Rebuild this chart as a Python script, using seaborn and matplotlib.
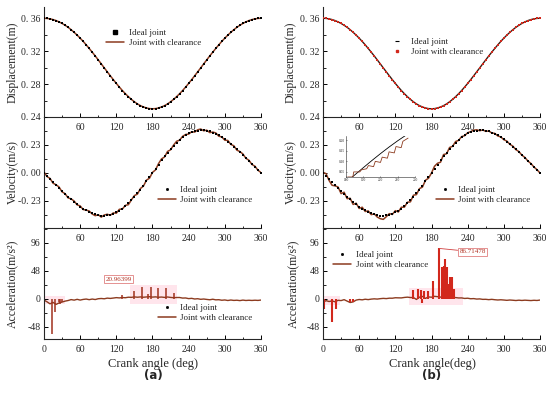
import matplotlib
matplotlib.use("Agg")
import matplotlib.pyplot as plt
import numpy as np
import pandas as pd
import seaborn as sns
from matplotlib.lines import Line2D
from matplotlib.patches import Rectangle
from matplotlib.ticker import AutoMinorLocator

# --- data (5 deg grid) ---
crank_angle = np.arange(0, 361, 5)

disp_ideal = [
    0.3600, 0.3598, 0.3593, 0.3584, 0.3572, 0.3556, 0.3537, 0.3515, 0.3490, 0.3461,
    0.3429, 0.3395, 0.3358, 0.3319, 0.3277, 0.3233, 0.3188, 0.3142, 0.3094, 0.3046,
    0.2997, 0.2949, 0.2901, 0.2854, 0.2808, 0.2764, 0.2722, 0.2683, 0.2647, 0.2614,
    0.2585, 0.2559, 0.2538, 0.2522, 0.2510, 0.2502, 0.2500,
    0.2502, 0.2510, 0.2522, 0.2538, 0.2559, 0.2585, 0.2614, 0.2647, 0.2683, 0.2722,
    0.2764, 0.2808, 0.2854, 0.2901, 0.2949, 0.2997, 0.3046, 0.3094, 0.3142, 0.3188,
    0.3233, 0.3277, 0.3319, 0.3358, 0.3395, 0.3429, 0.3461, 0.3490, 0.3515, 0.3537,
    0.3556, 0.3572, 0.3584, 0.3593, 0.3598, 0.3600,
]

vel_ideal = [
    0.0, -0.0254, -0.0507, -0.0759, -0.1008, -0.1254, -0.1495, -0.1729, -0.1957, -0.2176,
    -0.2385, -0.2582, -0.2765, -0.2932, -0.3082, -0.3213, -0.3322, -0.3409, -0.3470, -0.3505,
    -0.3512, -0.3490, -0.3439, -0.3358, -0.3246, -0.3104, -0.2931, -0.2731, -0.2504, -0.2251,
    -0.1975, -0.1679, -0.1365, -0.1037, -0.0697, -0.0351, 0.0,
    0.0351, 0.0697, 0.1037, 0.1365, 0.1679, 0.1975, 0.2251, 0.2504, 0.2731, 0.2931,
    0.3104, 0.3246, 0.3358, 0.3439, 0.3490, 0.3512, 0.3505, 0.3470, 0.3409, 0.3322,
    0.3213, 0.3082, 0.2932, 0.2765, 0.2582, 0.2385, 0.2176, 0.1957, 0.1729, 0.1495,
    0.1254, 0.1008, 0.0759, 0.0507, 0.0254, 0.0,
]

# clearance velocity = ideal + small wobble (a) / larger wobble (b)
vel_dev_a = [
    0.008, -0.004, 0.006, -0.008, 0.004, 0.010, -0.006, 0.003, -0.009, 0.005,
    0.008, -0.004, 0.006, -0.007, 0.003, 0.009, -0.005, -0.010, 0.004, -0.012,
    0.006, 0.010, -0.004, 0.008, -0.006, 0.012, -0.003, 0.007, -0.010, 0.004,
    0.012, -0.006, 0.009, -0.004, 0.011, -0.008, 0.005, -0.010, 0.007, 0.012,
    -0.005, 0.009, -0.007, 0.004, 0.010, -0.003, 0.008, 0.006, -0.005, 0.003,
    -0.008, 0.006, 0.010, -0.004, 0.005, -0.009, 0.004, 0.008, -0.006, 0.003,
    -0.007, 0.009, -0.004, 0.006, -0.008, 0.003, 0.007, -0.005, 0.004, -0.006,
    0.005, -0.003, 0.004,
]
vel_dev_b = [
    0.005, 0.020, -0.010, -0.025, -0.005, 0.010, -0.020, 0.015, -0.015, 0.010,
    -0.020, 0.010, -0.015, 0.012, -0.008, 0.010, -0.010, 0.005, -0.015, -0.025,
    -0.030, -0.010, 0.010, -0.005, 0.015, -0.010, 0.012, -0.008, 0.010, -0.012,
    0.015, -0.010, 0.008, -0.012, 0.010, -0.008, 0.000, 0.020, 0.010, -0.015,
    0.015, -0.010, 0.012, -0.006, 0.008, -0.005, 0.006, -0.004, 0.006, 0.004,
    0.008, 0.006, -0.004, 0.003, -0.005, 0.004, -0.003, 0.004, -0.004, 0.003,
    -0.003, 0.004, -0.003, 0.003, -0.004, 0.003, -0.003, 0.002, -0.003, 0.002,
    -0.002, 0.002, 0.000,
]

acc_ideal = [
    -1.84, -1.84, -1.83, -1.81, -1.79, -1.76, -1.72, -1.67, -1.62, -1.55,
    -1.47, -1.38, -1.27, -1.15, -1.02, -0.87, -0.71, -0.54, -0.35, -0.15,
    0.05, 0.26, 0.48, 0.70, 0.92, 1.14, 1.35, 1.55, 1.74, 1.91,
    2.07, 2.21, 2.33, 2.42, 2.49, 2.53, 2.54,
    2.53, 2.49, 2.42, 2.33, 2.21, 2.07, 1.91, 1.74, 1.55, 1.35,
    1.14, 0.92, 0.70, 0.48, 0.26, 0.05, -0.15, -0.35, -0.54, -0.71,
    -0.87, -1.02, -1.15, -1.27, -1.38, -1.47, -1.55, -1.62, -1.67, -1.72,
    -1.76, -1.79, -1.81, -1.83, -1.84, -1.84,
]
acc_noise_a = [
    0.0, -3.0, -6.5, -4.0, -7.5, -5.0, -3.5, -2.0, -1.0, 0.5,
    -0.5, 0.8, -0.6, 0.4, 0.9, -0.3, 0.6, -0.4, 0.8, 1.0,
    0.3, 1.2, 0.5, 0.9, 1.4, 0.7, 1.1, 0.6, 1.3, 0.9,
    1.5, 0.8, 1.2, 0.6, 1.0, 1.4, 0.7, 1.1, 0.5, 0.9,
    0.4, 1.2, 0.6, 0.3, 0.8, 1.0, 0.2, 0.6, -0.3, 0.4,
    -0.5, 0.2, -0.6, 0.1, -0.4, -0.8, 0.3, -0.6, -0.2, -1.0,
    -0.4, -1.2, -0.3, -0.9, -0.5, -1.1, -0.2, -0.8, -0.4, -0.7,
    -0.3, -0.6, 0.0,
]
acc_noise_b = [
    -4.0, -1.0, -2.5, -1.5, -3.0, -0.5, -1.0, 0.5, -2.0, -4.5,
    -3.5, -0.5, 0.4, -0.3, 0.6, -0.2, 0.5, 0.8, 0.2, 0.7,
    1.0, 0.4, 0.9, 0.6, 1.2, 0.8, 0.5, 1.1, 1.4, 0.6,
    0.4, -3.0, 0.8, 2.0, -1.5, 1.0, 0.5, 2.0, 1.5, 0.8,
    1.2, 0.6, 0.9, 0.3, 0.7, 0.2, 0.5, -0.2, 0.4, -0.3,
    0.2, -0.4, 0.1, -0.5, -0.2, -0.6, 0.1, -0.4, -0.7, -0.2,
    -0.5, -0.9, -0.3, -0.6, -1.0, -0.4, -0.8, -0.3, -0.6, -0.9,
    -0.4, -0.7, 0.0,
]

# impact spikes of the clearance joint
spike_a_angle = [14, 17.5, 25, 27, 30, 129.5, 150, 162.5, 173, 178, 188.5, 203, 216.5]
spike_a_peak = [-60.5, -23, -6, -8, -5, 6.5, 13, 20.96, 8, 20.5, 19.5, 19.5, 11]
spike_b_angle = [2, 15.5, 21, 45, 49, 150, 157, 163, 165, 168, 175, 183,
                 192.5, 197, 200, 202, 205, 208, 210, 213.5, 217]
spike_b_peak = [-17, -40, -17, -5, -5, 15, 17, 16, -7, 13.5, 13.5, 31,
                86.71, 55, 57, 68, 54, 25, 37, 37, 16.5]

# pink highlight bands (start, end, low, high)
band_a = [(1, 35, -9, 5), (142, 220, -8, 24)]
band_b = [(0, 28, -10, 5), (142, 233, -11, 18)]

# inset: zoomed clearance velocity around 180-215 deg
inset_angle = [181, 184, 184.5, 188, 189, 192, 193, 196, 197, 200, 201, 204, 205, 208, 209, 212, 213, 216]
inset_clear = [0.026, 0.026, 0.05, 0.05, 0.06, 0.065, 0.08, 0.075, 0.10, 0.095,
               0.12, 0.115, 0.145, 0.14, 0.17, 0.165, 0.195, 0.21]

x_ticks = [0, 60, 120, 180, 240, 300, 360]

BROWN = "#8c3b1f"
RED = "#d2281c"
DARK_RED = "#a0301c"
PINK = "#ffe3ea"


def style_axis(ax, ylim, yticks, yticklabels, show_zero):
    ax.set_xlim(0, 360)
    ax.set_ylim(*ylim)
    ax.set_xticks(x_ticks)
    labels = [str(t) for t in x_ticks]
    if not show_zero:
        labels[0] = ""
    ax.set_xticklabels(labels)
    ax.set_yticks(yticks)
    ax.set_yticklabels(yticklabels)
    ax.xaxis.set_minor_locator(AutoMinorLocator(2))
    ax.yaxis.set_minor_locator(AutoMinorLocator(2))
    ax.tick_params(which="both", direction="in", labelsize=7, color="black")
    ax.tick_params(which="major", length=3, width=0.7)
    ax.tick_params(which="minor", length=1.8, width=0.6)
    ax.tick_params(axis="x", pad=4)
    ax.tick_params(axis="y", pad=2.5)
    ax.set_xlabel("")
    sns.despine(ax=ax)
    ax.patch.set_visible(False)


def add_legend(ax, handles, anchor):
    ax.legend(handles=handles, loc="upper left", bbox_to_anchor=anchor, frameon=False,
              fontsize=6.5, handlelength=2.0, handletextpad=0.5, labelspacing=0.15,
              borderpad=0, borderaxespad=0, numpoints=1)


def main():
    sns.set_style("ticks")
    plt.rcParams["font.family"] = ["Liberation Serif", "DejaVu Serif"]
    plt.rcParams["axes.linewidth"] = 0.8

    df = pd.DataFrame({
        "angle": crank_angle,
        "disp": disp_ideal,
        "vel": vel_ideal,
        "vel_a": np.array(vel_ideal) + np.array(vel_dev_a),
        "vel_b": np.array(vel_ideal) + np.array(vel_dev_b),
        "acc": acc_ideal,
        "acc_a": np.array(acc_ideal) + np.array(acc_noise_a),
        "acc_b": np.array(acc_ideal) + np.array(acc_noise_b),
    })

    fig = plt.figure(figsize=(5.5, 3.94), dpi=100)
    col_x = [0.08, 0.5873]
    col_w = 0.3945
    rows = [(0.70305, 0.2792), (0.42132, 0.28173), (0.13959, 0.28173)]

    disp_lim = (0.24, 0.3737)
    vel_lim = (-0.452, 0.46)
    acc_lim = (-68.6, 121.7)

    h_clear_line = Line2D([], [], color=BROWN, lw=1.1, label="Joint with clearance")
    h_ideal_sq = Line2D([], [], ls="none", marker="s", ms=2.2, color="black", label="Ideal joint")
    h_ideal_dot = Line2D([], [], ls="none", marker="s", ms=1.0, color="black", label="Ideal joint")
    h_ideal_dash = Line2D([], [], ls="none", marker="_", ms=3, mew=0.8, color="black", label="Ideal joint")
    h_clear_red = Line2D([], [], ls="none", marker="s", ms=1.8, color=RED, label="Joint with clearance")

    for col, (vel_col, acc_col, spikes, bands) in enumerate([
        ("vel_a", "acc_a", (spike_a_angle, spike_a_peak), band_a),
        ("vel_b", "acc_b", (spike_b_angle, spike_b_peak), band_b),
    ]):
        x0 = col_x[col]
        ax_d = fig.add_axes([x0, rows[0][0], col_w, rows[0][1]])
        ax_v = fig.add_axes([x0, rows[1][0], col_w, rows[1][1]])
        ax_a = fig.add_axes([x0, rows[2][0], col_w, rows[2][1]])

        # Displacement
        if col == 0:
            sns.lineplot(data=df, x="angle", y="disp", ax=ax_d, color=BROWN, lw=1.1,
                         errorbar=None, legend=False, zorder=2)
            sns.scatterplot(data=df, x="angle", y="disp", ax=ax_d, color="black", marker="s",
                            s=2.5, linewidth=0, legend=False, zorder=3)
            add_legend(ax_d, [h_ideal_sq, h_clear_line], (0.286, 0.80))
        else:
            sns.lineplot(data=df, x="angle", y="disp", ax=ax_d, color="#3a1a10", lw=1.0,
                         errorbar=None, legend=False, zorder=2)
            sns.scatterplot(data=df, x="angle", y="disp", ax=ax_d, color=RED, marker="s",
                            s=1.5, linewidth=0, legend=False, zorder=3)
            add_legend(ax_d, [h_ideal_dash, h_clear_red], (0.30, 0.72))
        style_axis(ax_d, disp_lim, [0.24, 0.28, 0.32, 0.36],
                   ["0. 24", "0. 28", "0. 32", "0. 36"], False)
        ax_d.set_ylabel("Displacement(m)", fontsize=8.5)

        # Velocity
        sns.lineplot(data=df, x="angle", y=vel_col, ax=ax_v, color=BROWN, lw=1.1,
                     errorbar=None, legend=False, zorder=2)
        sns.scatterplot(data=df, x="angle", y="vel", ax=ax_v, color="black", marker="s",
                        s=1.0, linewidth=0, legend=False, zorder=3)
        style_axis(ax_v, vel_lim, [-0.23, 0.0, 0.23], ["-0. 23", "0. 00", "0. 23"], False)
        ax_v.set_ylabel("Velocity(m/s)", fontsize=8.5)
        add_legend(ax_v, [h_ideal_dot, h_clear_line], (0.525 if col == 0 else 0.52, 0.378))

        # Acceleration
        for start, end, low, high in bands:
            ax_a.add_patch(Rectangle((start, low), end - start, high - low,
                                     facecolor=PINK, edgecolor="none", alpha=0.9, zorder=0))
        sns.lineplot(data=df, x="angle", y=acc_col, ax=ax_a, color=BROWN, lw=1.0,
                     errorbar=None, legend=False, zorder=2)
        ax_a.vlines(spikes[0], 0, spikes[1], colors=DARK_RED if col == 0 else RED,
                    lw=1.1 if col == 0 else 1.5, zorder=2)
        sns.scatterplot(data=df, x="angle", y="acc", ax=ax_a, color="#202020", marker="s",
                        s=0.5, linewidth=0, legend=False, zorder=3)
        style_axis(ax_a, acc_lim, [-48, 0, 48, 96], ["-48", "0", "48", "96"], True)
        ax_a.set_ylabel("Acceleration(m/s²)", fontsize=8.5)

        if col == 0:
            add_legend(ax_a, [h_ideal_dot, h_clear_line], (0.525, 0.315))
            ax_a.annotate("20.96399", xy=(124, 34), ha="center", va="center", fontsize=5,
                          color="#b03020",
                          bbox=dict(boxstyle="square,pad=0.2", fc="white", ec="#e08080", lw=0.6))
            ax_d.yaxis.set_label_coords(-0.117, 0.5)
            ax_v.yaxis.set_label_coords(-0.117, 0.5)
            ax_a.yaxis.set_label_coords(-0.117, 0.5)
        else:
            add_legend(ax_a, [h_ideal_dot, h_clear_line], (0.046, 0.793))
            ax_a.annotate("86.71478", xy=(192.5, 86.71), xytext=(248, 81), ha="center",
                          va="center", fontsize=5, color="#b03020",
                          arrowprops=dict(arrowstyle="-", color="#d04040", lw=0.6,
                                          shrinkA=0, shrinkB=0),
                          bbox=dict(boxstyle="square,pad=0.2", fc="white", ec="#e08080", lw=0.6))
            ax_d.yaxis.set_label_coords(-0.12, 0.5)
            ax_v.yaxis.set_label_coords(-0.12, 0.5)
            ax_a.yaxis.set_label_coords(-0.11, 0.5)

            # inset zoom of velocity
            ax_in = fig.add_axes([0.629, 0.5508, 0.1255, 0.104])
            seg = df[(df["angle"] >= 180) & (df["angle"] <= 215)]
            sns.lineplot(data=seg, x="angle", y="vel", ax=ax_in, color="black", lw=0.6,
                         errorbar=None, legend=False)
            sns.lineplot(x=inset_angle, y=inset_clear, ax=ax_in, color=BROWN, lw=0.6,
                         errorbar=None, legend=False, sort=False)
            ax_in.set_xlim(180, 220)
            ax_in.set_ylim(0.026, 0.22)
            ax_in.set_xticks([180, 190, 200, 210, 220])
            ax_in.set_yticks([0.05, 0.10, 0.15, 0.20])
            ax_in.set_yticklabels(["0.05", "0.10", "0.15", "0.20"])
            ax_in.tick_params(direction="in", labelsize=2.5, length=1, width=0.4, pad=1)
            ax_in.set_xlabel("")
            ax_in.set_ylabel("")
            sns.despine(ax=ax_in)
            for sp in ax_in.spines.values():
                sp.set_linewidth(0.4)

    fig.text(0.278, 0.0761, "Crank angle (deg)", ha="center", va="center", fontsize=9)
    fig.text(0.7855, 0.0761, "Crank angle(deg)", ha="center", va="center", fontsize=9)
    fig.text(0.278, 0.0465, "(a)", ha="center", va="center", fontsize=8.5,
             family="DejaVu Sans", weight="bold")
    fig.text(0.7849, 0.0465, "(b)", ha="center", va="center", fontsize=8.5,
             family="DejaVu Sans", weight="bold")

    fig.savefig("out.png", dpi=100, facecolor="white")


if __name__ == "__main__":
    main()
